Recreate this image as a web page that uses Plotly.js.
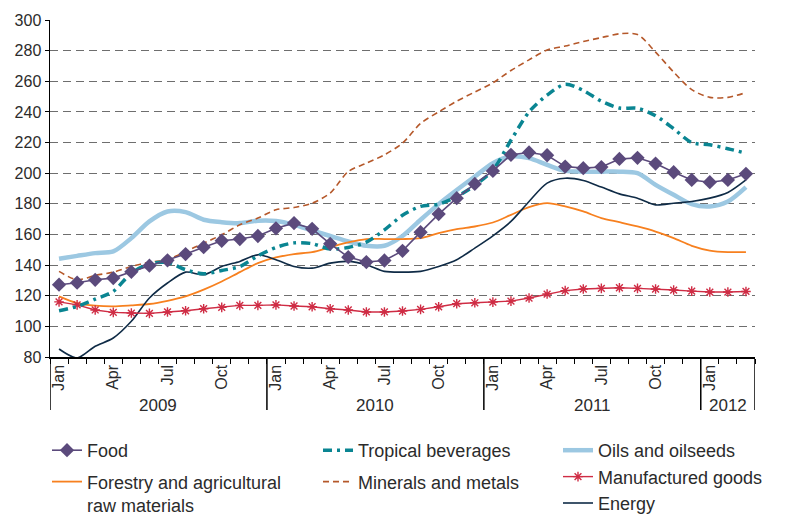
<!DOCTYPE html>
<html>
<head>
<meta charset="utf-8">
<script src="https://cdn.plot.ly/plotly-3.0.1.min.js"></script>
<style>html,body{margin:0;padding:0;background:#fff;}#chart{width:790px;height:514px;}</style>
</head>
<body>
<div id="chart"></div>
<script>
// Months Jan 2009 .. Mar 2012
const months = ["Jan","Feb","Mar","Apr","May","Jun","Jul","Aug","Sep","Oct","Nov","Dec",
  "Jan","Feb","Mar","Apr","May","Jun","Jul","Aug","Sep","Oct","Nov","Dec",
  "Jan","Feb","Mar","Apr","May","Jun","Jul","Aug","Sep","Oct","Nov","Dec",
  "Jan","Feb","Mar"];
const years = ["2009","2010","2011","2012"];
const shownMonths = ["Jan","Apr","Jul","Oct"];

const food = [127.2,128.5,130.4,131.5,135.6,139.6,143.1,147.2,151.7,155.9,157,159,
  164,167.4,163.7,153.9,145.2,142,143,149.3,161.5,173.3,183.7,193,
  201.5,212,213.5,211.7,204.3,203.3,204,209.3,210,206.3,200.6,195.6,
  194.1,195.6,199.6];
const tropical = [110.2,113,117.8,122.8,134.8,140.9,141.7,137,134.3,136.5,139,146,
  151.5,154.5,154,150.5,151.5,155,163,172.5,178.3,179.8,184.8,192,
  202,221.5,240,251,258,254,247,242.5,242.4,237.5,229,220,
  218.5,216,213];
const oils = [144.1,146,147.8,148.9,157.6,168.5,175,174.6,169.6,168,167.4,169,
  168.8,166.3,162.6,159,155.4,152.6,152.6,159,169.6,179.8,189,197.8,
  206.5,210.9,209.8,205.4,201.5,201,201,201,200,192.4,185.9,179.8,
  178.3,181.5,190.9];
const forestry = [119.6,115.2,113.5,113,113.7,114.6,116.7,119.6,124,129.3,135.4,141.3,
  145,147.2,148.5,151.7,154.8,157,157,157,157.6,160.9,163.5,165.2,
  167.8,172.8,177.8,180.4,178.3,175,170.7,168,165.2,161.9,157.6,152.6,
  149.5,148.5,148.5];
const minerals = [135.9,130.4,133.3,135.4,139.1,141.9,143.5,148.9,154.3,159.8,166.3,170.7,
  176.1,177.6,180.4,187,201.1,206.5,212,219.6,232.5,240,247,253,
  259,267,274,280.4,283,286,288.5,291,290.5,279,266,254.5,
  249.5,249.5,252.6];
const manufactured = [116,114,110.7,109.1,108.7,108.5,109.4,110.2,111.5,112.4,113.7,113.7,
  114,113.3,112.8,111.5,110.7,109.4,109.4,110,111.1,112.8,114.8,115.4,
  115.8,116.5,118.5,121.1,123.3,124.4,124.8,125.2,124.8,124.4,123.7,123,
  122.4,122.4,122.8];
const energy = [85.2,79.4,87,92.4,103.3,118.5,128.3,135.4,133.7,139.1,142.4,146.7,
  143.5,139.1,138,141.3,142.4,140.2,135.9,135.4,135.9,139.1,143.5,151.1,
  159.1,168.5,181.5,193.5,196.7,195.2,190.9,186.5,183.7,179.3,180.4,181.5,
  183.7,187.4,195.6];

const x = months.map((m, i) => i);
const tickvals = x.filter(i => shownMonths.includes(months[i]));
const ticktext = tickvals.map(i => months[i]);

// year boundaries and centres derived from month labels
const yearStarts = x.filter(i => months[i] === "Jan");
const bounds = yearStarts.map(i => i - 0.5).concat([months.length - 0.5]);
const yearCentres = years.map((y, k) => (bounds[k] + bounds[k + 1]) / 2);

const FONT = "Liberation Sans, Arial, sans-serif";
const TXT = "#2b2b2b";

const traces = [
  {name:"Oils and oilseeds", y:oils, mode:"lines", line:{color:"#9cc8e2", width:4.5, shape:"spline", smoothing:0.8}, legend:"legend3", legendrank:1},
  {name:"Forestry and agricultural<br>raw materials", y:forestry, mode:"lines", line:{color:"#f7801f", width:1.8, shape:"spline", smoothing:0.8}, legend:"legend", legendrank:2, legendgroup:"g2"},
  {name:"Minerals and metals", y:minerals, mode:"lines", line:{color:"#b5582a", width:1.6, dash:"6px,4px", shape:"spline", smoothing:0.8}, legend:"legend2", legendrank:2, legendgroup:"g4"},
  {name:"Energy", y:energy, mode:"lines", line:{color:"#0f2b46", width:1.6, shape:"spline", smoothing:0.8}, legend:"legend3", legendrank:3},
  {name:"Manufactured goods", y:manufactured, mode:"lines+markers", line:{color:"#cf2c44", width:1.4}, marker:{symbol:"asterisk-open", size:8, line:{color:"#cf2c44", width:1.4}}, legend:"legend3", legendrank:2},
  {name:"Tropical beverages", y:tropical, mode:"lines", line:{color:"#0a8592", width:3.5, dash:"9px,5px,3px,5px", shape:"spline", smoothing:0.8}, legend:"legend2", legendrank:1, legendgroup:"g3"},
  {name:"Food", y:food, mode:"lines+markers", line:{color:"#5b4a7c", width:1.6}, marker:{symbol:"diamond", size:11, color:"#5b4a7c"}, legend:"legend", legendrank:1, legendgroup:"g1"}
].map(t => Object.assign({x:x, type:"scatter", hoverinfo:"skip"}, t));

const shapes = bounds.map(b => ({type:"line", xref:"x", yref:"paper", x0:b, x1:b, y0:0, y1:-0.157, line:{color:"#000", width:1.5}}));
const annotations = years.map((yr, k) => ({xref:"x", yref:"paper", x:yearCentres[k], y:-0.143, text:yr, showarrow:false, yanchor:"middle", font:{family:FONT, size:17, color:TXT}}));

const legendCommon = {orientation:"v", xref:"container", yref:"container", yanchor:"top", xanchor:"left", bgcolor:"rgba(0,0,0,0)", font:{family:FONT, size:18, color:TXT}, valign:"top", tracegroupgap:0};
const legTop = (514 - 432) / 514;

const layout = {
  width:790, height:514,
  margin:{l:50, r:35, t:20, b:157, autoexpand:false},
  paper_bgcolor:"#fff", plot_bgcolor:"#fff",
  font:{family:FONT, color:TXT},
  showlegend:true,
  xaxis:{
    automargin:false,
    range:[-0.5, months.length - 0.5], tickmode:"array", tickvals:tickvals, ticktext:ticktext,
    tickangle:-90, ticks:"", showgrid:false, zeroline:false,
    showline:true, linecolor:"#000", linewidth:1.5,
    tickfont:{family:FONT, size:16, color:TXT},
    minor:{tickmode:"linear", tick0:-0.5, dtick:1, ticks:"outside", ticklen:5, tickcolor:"#000", tickwidth:1, showgrid:false}
  },
  yaxis:{
    automargin:false,
    range:[80, 300], dtick:20, tick0:80, ticks:"outside", ticklen:4, tickcolor:"#000",
    showline:true, linecolor:"#000", linewidth:1.5, zeroline:false,
    showgrid:true, gridcolor:"#6e6e6e", gridwidth:1, griddash:"8px,5px",
    tickfont:{family:FONT, size:16, color:TXT}
  },
  legend:Object.assign({}, legendCommon, {x:47/790, y:legTop, tracegroupgap:5}),
  legend2:Object.assign({}, legendCommon, {x:318/790, y:legTop, tracegroupgap:5}),
  legend3:Object.assign({}, legendCommon, {x:558/790, y:legTop}),
  shapes:shapes,
  annotations:annotations
};

Plotly.newPlot("chart", traces, layout, {staticPlot:true, displayModeBar:false});
</script>
</body>
</html>
